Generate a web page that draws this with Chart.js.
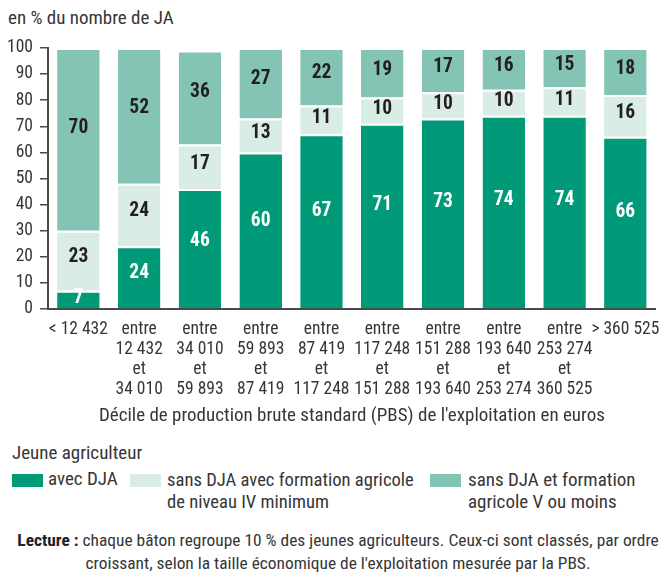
<!DOCTYPE html>
<html><head><meta charset="utf-8">
<script src="https://cdn.jsdelivr.net/npm/chart.js@4"></script>
<style>
html,body{margin:0;padding:0;background:#fff;}
body{width:671px;height:577px;position:relative;overflow:hidden;font-family:"Roboto Condensed","Liberation Sans",sans-serif;color:#363636;}
.t{position:absolute;white-space:nowrap;font-size:19px;line-height:20px;}
#wrap{position:absolute;left:0;top:0;width:671px;height:440px;}
.box{position:absolute;width:31px;height:13px;}
</style></head><body>
<div class="t" id="ytitle" style="left:8px;top:8px;">en % du nombre de JA</div>
<div id="wrap"><canvas id="c"></canvas></div>
<div class="t" style="left:12px;top:443px;">Jeune agriculteur</div>
<div class="box" style="left:12px;top:474px;background:#009a78;"></div>
<div class="t" style="left:48px;top:469px;">avec DJA</div>
<div class="box" style="left:130px;top:474px;background:#d9ece6;"></div>
<div class="t" style="left:167px;top:469px;line-height:22px;font-size:18.6px;">sans DJA avec formation agricole<br>de niveau IV minimum</div>
<div class="box" style="left:430px;top:474px;background:#84c4b5;"></div>
<div class="t" style="left:468px;top:469px;line-height:22px;">sans DJA et formation<br>agricole V ou moins</div>
<div class="t" id="lect" style="left:8px;top:529px;width:660px;text-align:center;line-height:23px;font-size:17.4px;"><b style="color:#222">Lecture :</b> chaque bâton regroupe 10 % des jeunes agriculteurs. Ceux-ci sont classés, par ordre<br>croissant, selon la taille économique de l'exploitation mesurée par la PBS.</div>
<script>
const categories = [
  ["< 12 432"],
  ["entre","12 432","et","34 010"],
  ["entre","34 010","et","59 893"],
  ["entre","59 893","et","87 419"],
  ["entre","87 419","et","117 248"],
  ["entre","117 248","et","151 288"],
  ["entre","151 288","et","193 640"],
  ["entre","193 640","et","253 274"],
  ["entre","253 274","et","360 525"],
  ["> 360 525"]
];
const avecDJA      = [7, 24, 46, 60, 67, 71, 73, 74, 74, 66];
const sansDJA_IV   = [23, 24, 17, 13, 11, 10, 10, 10, 11, 16];
const sansDJA_V    = [70, 52, 36, 27, 22, 19, 17, 16, 15, 18];
const seriesNames  = ["avec DJA", "sans DJA avec formation agricole de niveau IV minimum", "sans DJA et formation agricole V ou moins"];
const yTicks = [0,10,20,30,40,50,60,70,80,90,100];
const xTitle = "Décile de production brute standard (PBS) de l'exploitation en euros";

const FONT = '"Roboto Condensed","Liberation Sans",sans-serif';
const TXT = '#363636';
const AXIS = '#4a4a4a';

const labelPlugin = {
  id: 'segLabels',
  afterDatasetsDraw(chart) {
    const ctx = chart.ctx;
    ctx.save();
    ctx.font = 'bold 19.5px ' + FONT;
    ctx.textAlign = 'center';
    ctx.textBaseline = 'middle';
    chart.data.datasets.forEach((ds, i) => {
      const meta = chart.getDatasetMeta(i);
      meta.data.forEach((el, j) => {
        const top = el.y, base = el.base;
        const y = base - 0.56 * (base - top);
        ctx.fillStyle = i === 0 ? '#ffffff' : '#231f20';
        ctx.fillText(String(ds.data[j]), el.x, y);
      });
    });
    ctx.restore();
  }
};

const colors = ['#009a78', '#d9ece6', '#84c4b5'];
const values = [avecDJA, sansDJA_IV, sansDJA_V];

new Chart(document.getElementById('c'), {
  type: 'bar',
  data: {
    labels: categories,
    datasets: values.map((v, i) => ({
      label: seriesNames[i],
      data: v,
      backgroundColor: colors[i],
      borderColor: '#ffffff',
      borderWidth: {top: 2, left: 0, right: 0, bottom: 0},
      borderSkipped: false,
      barPercentage: 0.7,
      categoryPercentage: 1.0
    }))
  },
  options: {
    responsive: true,
    maintainAspectRatio: false,
    animation: false,
    layout: {padding: {top: 48, right: 13.5, bottom: 0, left: 0}},
    plugins: {legend: {display: false}, tooltip: {enabled: false}, title: {display: false}},
    scales: {
      x: {
        stacked: true,
        grid: {display: false, drawTicks: false},
        border: {display: true, color: AXIS, width: 2},
        ticks: {color: TXT, font: {family: FONT, size: 17.5, lineHeight: '20px'}, padding: 11, maxRotation: 0, autoSkip: false},
        title: {display: true, text: xTitle, color: TXT, font: {family: FONT, size: 19, lineHeight: '22px'}, padding: {top: 0, bottom: 13}},
        afterFit(s) { s.height = 131; }
      },
      y: {
        stacked: true,
        min: 0, max: 100,
        afterBuildTicks(s) { s.ticks = yTicks.map(v => ({value: v})); },
        grid: {display: true, drawOnChartArea: false, drawTicks: true, tickLength: 8, color: AXIS, lineWidth: 1.5},
        border: {display: true, color: AXIS, width: 2},
        ticks: {color: TXT, font: {family: FONT, size: 17.5}, padding: 7},
        afterFit(s) { s.width = 48; }
      }
    }
  },
  plugins: [labelPlugin]
});
</script>
</body></html>
